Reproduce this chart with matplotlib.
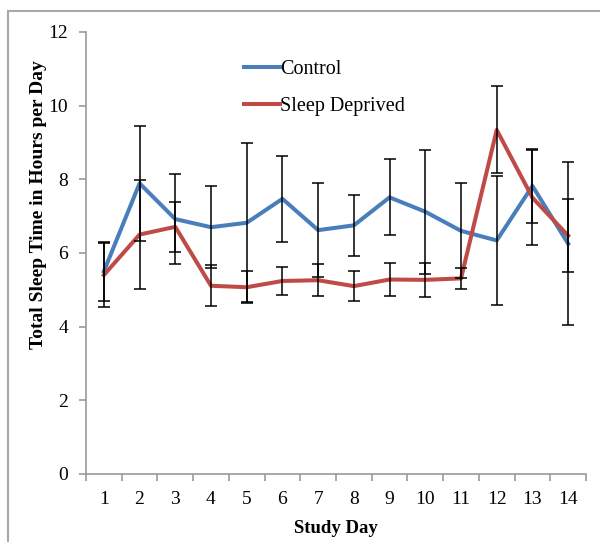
import matplotlib

matplotlib.use("Agg")
import matplotlib.pyplot as plt
from matplotlib.patches import Rectangle

# dados
dias = list(range(1, 15))
controle = [5.50, 7.89, 6.92, 6.70, 6.82, 7.47, 6.62, 6.75, 7.51, 7.12, 6.60, 6.34, 7.82, 6.25]
controle_erro = [0.80, 1.57, 1.23, 1.12, 2.16, 1.17, 1.27, 0.83, 1.03, 1.68, 1.29, 1.74, 1.00, 2.21]
privados = [5.40, 6.50, 6.71, 5.11, 5.07, 5.24, 5.26, 5.10, 5.28, 5.27, 5.31, 9.34, 7.50, 6.47]
privados_erro = [0.86, 1.49, 0.67, 0.56, 0.43, 0.38, 0.44, 0.41, 0.45, 0.47, 0.28, 1.18, 1.29, 0.99]

_AZUL = "#4A7EBB"
_VERMELHO = "#BE4B48"
_CINZA = "#9A9A9A"

plt.rcParams["font.family"] = ["Liberation Serif", "DejaVu Serif"]

fig = plt.figure(figsize=(6.0, 5.42), dpi=100)
ax = fig.add_axes([0.1433, 0.1255, 0.8334, 0.8155])

ax.plot(dias, controle, color=_AZUL, linewidth=2.9, label="Control", zorder=2)
ax.plot(dias, privados, color=_VERMELHO, linewidth=2.9, label="Sleep Deprived", zorder=2)
ax.errorbar(dias, controle, yerr=controle_erro, fmt="none", ecolor="black",
            elinewidth=1.1, capsize=4, capthick=1.1, zorder=3)
ax.errorbar(dias, privados, yerr=privados_erro, fmt="none", ecolor="black",
            elinewidth=1.1, capsize=4, capthick=1.1, zorder=3)

ax.set_xlim(0.5, 14.5)
ax.set_ylim(0, 12)
ax.set_yticks(range(0, 13, 2))
ax.set_xticks(dias)
ax.set_xticks([d + 0.5 for d in range(0, 15)], minor=True)
ax.tick_params(axis="x", which="major", length=0, labelsize=14, pad=12)
ax.tick_params(axis="x", which="minor", length=5, color=_CINZA, width=1.2)
ax.tick_params(axis="y", length=5, color=_CINZA, width=1.2, labelsize=14, pad=8)

for lado in ("top", "right"):
    ax.spines[lado].set_visible(False)
for lado in ("left", "bottom"):
    ax.spines[lado].set_color(_CINZA)
    ax.spines[lado].set_linewidth(1.2)

ax.set_xlabel("Study Day", fontsize=13.5, fontweight="bold", labelpad=9)
ax.set_ylabel("Total Sleep Time in Hours per Day", fontsize=14, fontweight="bold")
ax.yaxis.set_label_coords(-0.078, 0.609)

ax.legend(loc="upper left", bbox_to_anchor=(0.28, 0.977), frameon=False, fontsize=14.5,
          handlelength=1.8, handletextpad=0.0, labelspacing=0.85)

# moldura cinza da figura (cortada à direita e embaixo)
fig.patches.append(Rectangle((8 / 600, -0.05), 1.2, 1 - 11 / 542 + 0.05, transform=fig.transFigure,
                             fill=False, edgecolor="#A8A8A8", linewidth=1.5))

fig.savefig("out.png", dpi=100)
